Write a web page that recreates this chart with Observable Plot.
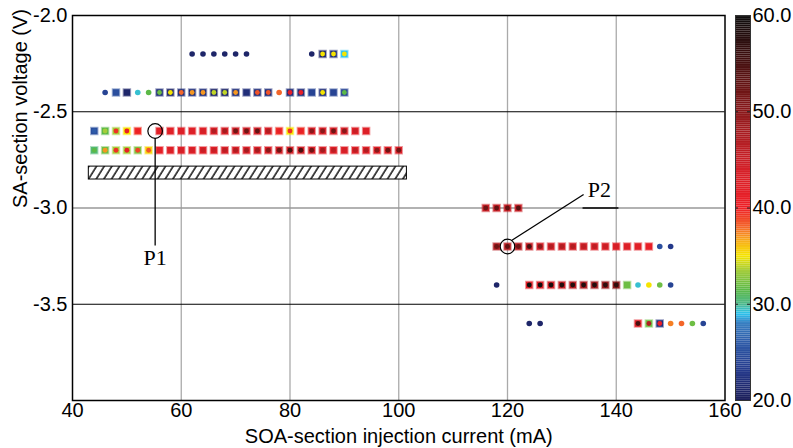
<!DOCTYPE html>
<html><head><meta charset="utf-8">
<script src="https://cdn.jsdelivr.net/npm/d3@7"></script>
<script src="https://cdn.jsdelivr.net/npm/@observablehq/plot@0.6"></script>
<style>
body{margin:0;background:#fff;}
#wrap{position:relative;width:793px;height:448px;overflow:hidden;background:#fff;}
#main{position:absolute;left:0;top:0;}
#cbar{position:absolute;left:728px;top:0;}
</style></head><body>
<svg width="0" height="0" style="position:absolute">
<defs><pattern id="hatch" patternUnits="userSpaceOnUse" width="6.5" height="6.5" patternTransform="rotate(32)">
<rect width="6.5" height="6.5" fill="#fff"/>
<line x1="1" y1="-1" x2="1" y2="8" stroke="#000" stroke-width="1.4"/></pattern></defs></svg>
<div id="wrap"><div id="main"></div><div id="cbar"></div></div>
<script>
// ---- data: [current mA, square value, dot value] per SA voltage row ----
const rowVoltages = [-2.2, -2.4, -2.6, -2.7, -3.0, -3.2, -3.4, -3.6];
const row_22 = [[62,null,21],[64,null,21],[66,null,21],[68,null,21],[70,null,21],[72,null,21],[84,null,21],[86,21,35],[88,22,35],[90,29,35]];
const row_24 = [[46,null,24],[48,25,25],[50,21,21],[52,null,29.3],[54,null,31.5],[56,22,32],[58,21,35],[60,22,38],[62,22,37],[64,22,37],[66,21,34],[68,21,34],[70,22,37],[72,22,22],[74,22,38.5],[76,22,38.5],[78,null,38],[80,22,41],[82,22,41],[84,24,24],[86,22,35],[88,24,24],[90,24,31.5]];
const row_26 = [[44,25,26],[46,31.5,33.5],[48,33.5,39.5],[50,35,41],[52,39.5,40],[56,42,42],[58,42,42],[60,42,43],[62,42,43],[64,42,44],[66,43,47],[68,43,48],[70,44,52],[72,44,52],[74,44,53],[76,43,47],[78,39.5,41],[80,35,39.5],[82,39.5,41],[84,43,50],[86,43,50],[88,43,52],[90,43,50],[92,42,45],[94,42,43]];
const row_27 = [[44,30.5,31.5],[46,32,37],[48,33.5,39.5],[50,33.5,41],[52,32.5,39],[54,35.5,38.5],[56,41,42],[58,42,43],[60,42,44],[62,42,44],[64,42,45],[66,42,45],[68,43,46],[70,43,47],[72,43,48],[74,43,48],[76,43,50],[78,44,52],[80,44,55],[82,44,55],[84,43,52],[86,43,48],[88,42,46],[90,42,44],[92,42,46],[94,42,47],[96,42,50],[98,42,52],[100,43,52]];
const row_30 = [[116,45,52],[118,45,53],[120,45,53],[122,45,54]];
const row_32 = [[118,47,52],[120,46,53],[122,46,52],[124,45,55],[126,44,50],[128,44,47],[130,44,47],[132,44,47],[134,44,46],[136,43,46],[138,43,45],[140,42,44],[142,42,43],[144,42,42],[146,41,41],[148,null,25],[150,null,23]];
const row_34 = [[118,null,21],[124,42,60],[126,43,60],[128,44,59],[130,45,58],[132,46,58],[134,47,58],[136,48,58],[138,49,57],[140,50,57],[142,32,32],[144,null,29.3],[146,null,35],[148,null,32],[150,null,24]];
const row_36 = [[124,null,21],[126,null,21],[144,42,55],[146,32,47],[148,22,40],[150,null,37.5],[152,null,38],[154,null,32],[156,null,24]];
const rows = [row_22, row_24, row_26, row_27, row_30, row_32, row_34, row_36];

const xTicks = [40, 60, 80, 100, 120, 140, 160];
const yTicks = [-2.0, -2.5, -3.0, -3.5];
const blackGrid = [-2.5, -3.5];
const grayGrid = [-3.0];
const cbTicks = [20, 30, 40, 50, 60];
const hatchBox = [{x1: 43, x2: 101.5, y1: -2.785, y2: -2.852}];
const p1 = {x: 55.2, y: -2.6, lineEnd: -3.195, textY: -3.262, label: "P1"};
const p2 = {x: 120, y: -3.2, lx1: 120.74, ly1: -3.169, lx2: 134.0, ly2: -2.930, ux1: 133.8, ux2: 140.4, uy: -3.0, tx: 136.9, ty: -2.905, label: "P2"};

// colour map (value stops -> colours)
const stopVals = [20, 23, 26, 28, 29, 30, 31.5, 33.5, 35, 36.5, 38, 40, 44, 48, 52, 56, 60];
const stopCols = ["#1b1d58","#24388a","#2e5ba8","#3a7fc1","#2bc3ef","#4fb98a","#5cb947","#a5cd3a","#f6e400","#f8b01b","#f3662a","#ee1f26","#d42028","#a51c20","#6f1515","#3a0e0e","#0d0d0d"];
const colorOpt = {type: "linear", domain: stopVals, range: stopCols, clamp: true};

const pts = [];
rows.forEach((r, i) => r.forEach(([x, sq, dot]) => pts.push({x, y: rowVoltages[i], sq, dot})));
const withSq = pts.filter(d => d.sq != null);
const dotIn = pts.filter(d => d.sq != null && d.dot != null);
const dotOnly = pts.filter(d => d.sq == null);

const font = "'Liberation Sans', Arial, Helvetica, sans-serif";
const serif = "'Liberation Serif', 'Times New Roman', serif";

const main = Plot.plot({
  width: 730, height: 448,
  marginLeft: 72, marginRight: 5.5, marginTop: 15, marginBottom: 48,
  x: {domain: [40, 160]},
  y: {domain: [-4, -2]},
  color: colorOpt,
  style: {fontFamily: font, fontSize: "20px", background: "transparent", color: "#000", overflow: "visible"},
  marks: [
    Plot.ruleX(xTicks.slice(1, -1), {stroke: "#aaa", strokeWidth: 1.3}),
    Plot.ruleY(grayGrid, {stroke: "#999", strokeWidth: 1.3}),
    Plot.ruleY(blackGrid, {stroke: "#000", strokeWidth: 1.2}),
    Plot.rect(hatchBox, {x1: "x1", x2: "x2", y1: "y1", y2: "y2", fill: "url(#hatch)", stroke: "#000", strokeWidth: 1}),
    Plot.dot(withSq, {x: "x", y: "y", symbol: "square", r: 4.8, fill: "sq", fillOpacity: 0.45}),
    Plot.dot(withSq, {x: "x", y: "y", symbol: "square", r: 3.7, fill: "sq"}),
    Plot.dot(dotIn, {x: "x", y: "y", r: 2.4, fill: "dot"}),
    Plot.dot(dotOnly, {x: "x", y: "y", r: 2.8, fill: "dot"}),
    // annotations
    Plot.dot([p1], {x: "x", y: "y", r: 7.3, stroke: "#000", fill: "none", strokeWidth: 1.2}),
    Plot.link([p1], {x1: "x", x2: "x", y1: d => d.y - 0.038, y2: "lineEnd", stroke: "#000", strokeWidth: 1.3}),
    Plot.text([p1], {x: "x", y: "textY", text: "label", fontFamily: serif, fontSize: 22, lineAnchor: "middle"}),
    Plot.dot([p2], {x: "x", y: "y", r: 7.3, stroke: "#000", fill: "none", strokeWidth: 1.2}),
    Plot.link([p2], {x1: "lx1", y1: "ly1", x2: "lx2", y2: "ly2", stroke: "#000", strokeWidth: 1.3}),
    Plot.link([p2], {x1: "ux1", y1: "uy", x2: "ux2", y2: "uy", stroke: "#000", strokeWidth: 1.5}),
    Plot.text([p2], {x: "tx", y: "ty", text: "label", fontFamily: serif, fontSize: 22, lineAnchor: "middle"}),
    Plot.frame({stroke: "#000", strokeWidth: 1.5}),
    Plot.axisX({ticks: xTicks, tickSize: 0, tickPadding: 2, label: null, tickFormat: d => String(d)}),
    Plot.axisY({ticks: yTicks, tickSize: 0, tickPadding: 5, label: null, tickFormat: d => d.toFixed(1)}),
    Plot.text(["SOA-section injection current (mA)"], {frameAnchor: "bottom", dy: 36, fontSize: 20, lineAnchor: "middle"}),
    Plot.text(["SA-section voltage (V)"], {frameAnchor: "left", dx: -52, rotate: -90, fontSize: 20, lineAnchor: "middle"})
  ]
});
document.getElementById("main").appendChild(main);

const bands = d3.range(20, 60, 0.2);
const cb = Plot.plot({
  width: 65, height: 448,
  marginLeft: 7, marginRight: 43, marginTop: 15, marginBottom: 48,
  x: {domain: [0, 1], axis: null},
  y: {domain: [20, 60], axis: null},
  color: colorOpt,
  style: {fontFamily: font, fontSize: "20px", background: "transparent", color: "#000", overflow: "visible"},
  marks: [
    Plot.rect(bands, {x1: 0, x2: 1, y1: d => d, y2: d => d + 0.2, fill: d => d + 0.1}),
    Plot.ruleY([30, 40, 50], {stroke: "#222", strokeWidth: 1, strokeDasharray: "3,9"}),
    Plot.frame({stroke: "#333", strokeWidth: 1}),
    Plot.axisY({anchor: "right", ticks: cbTicks, tickSize: 0, tickPadding: 2, label: null, tickFormat: d => d.toFixed(1)})
  ]
});
document.getElementById("cbar").appendChild(cb);
</script>
</body></html>
